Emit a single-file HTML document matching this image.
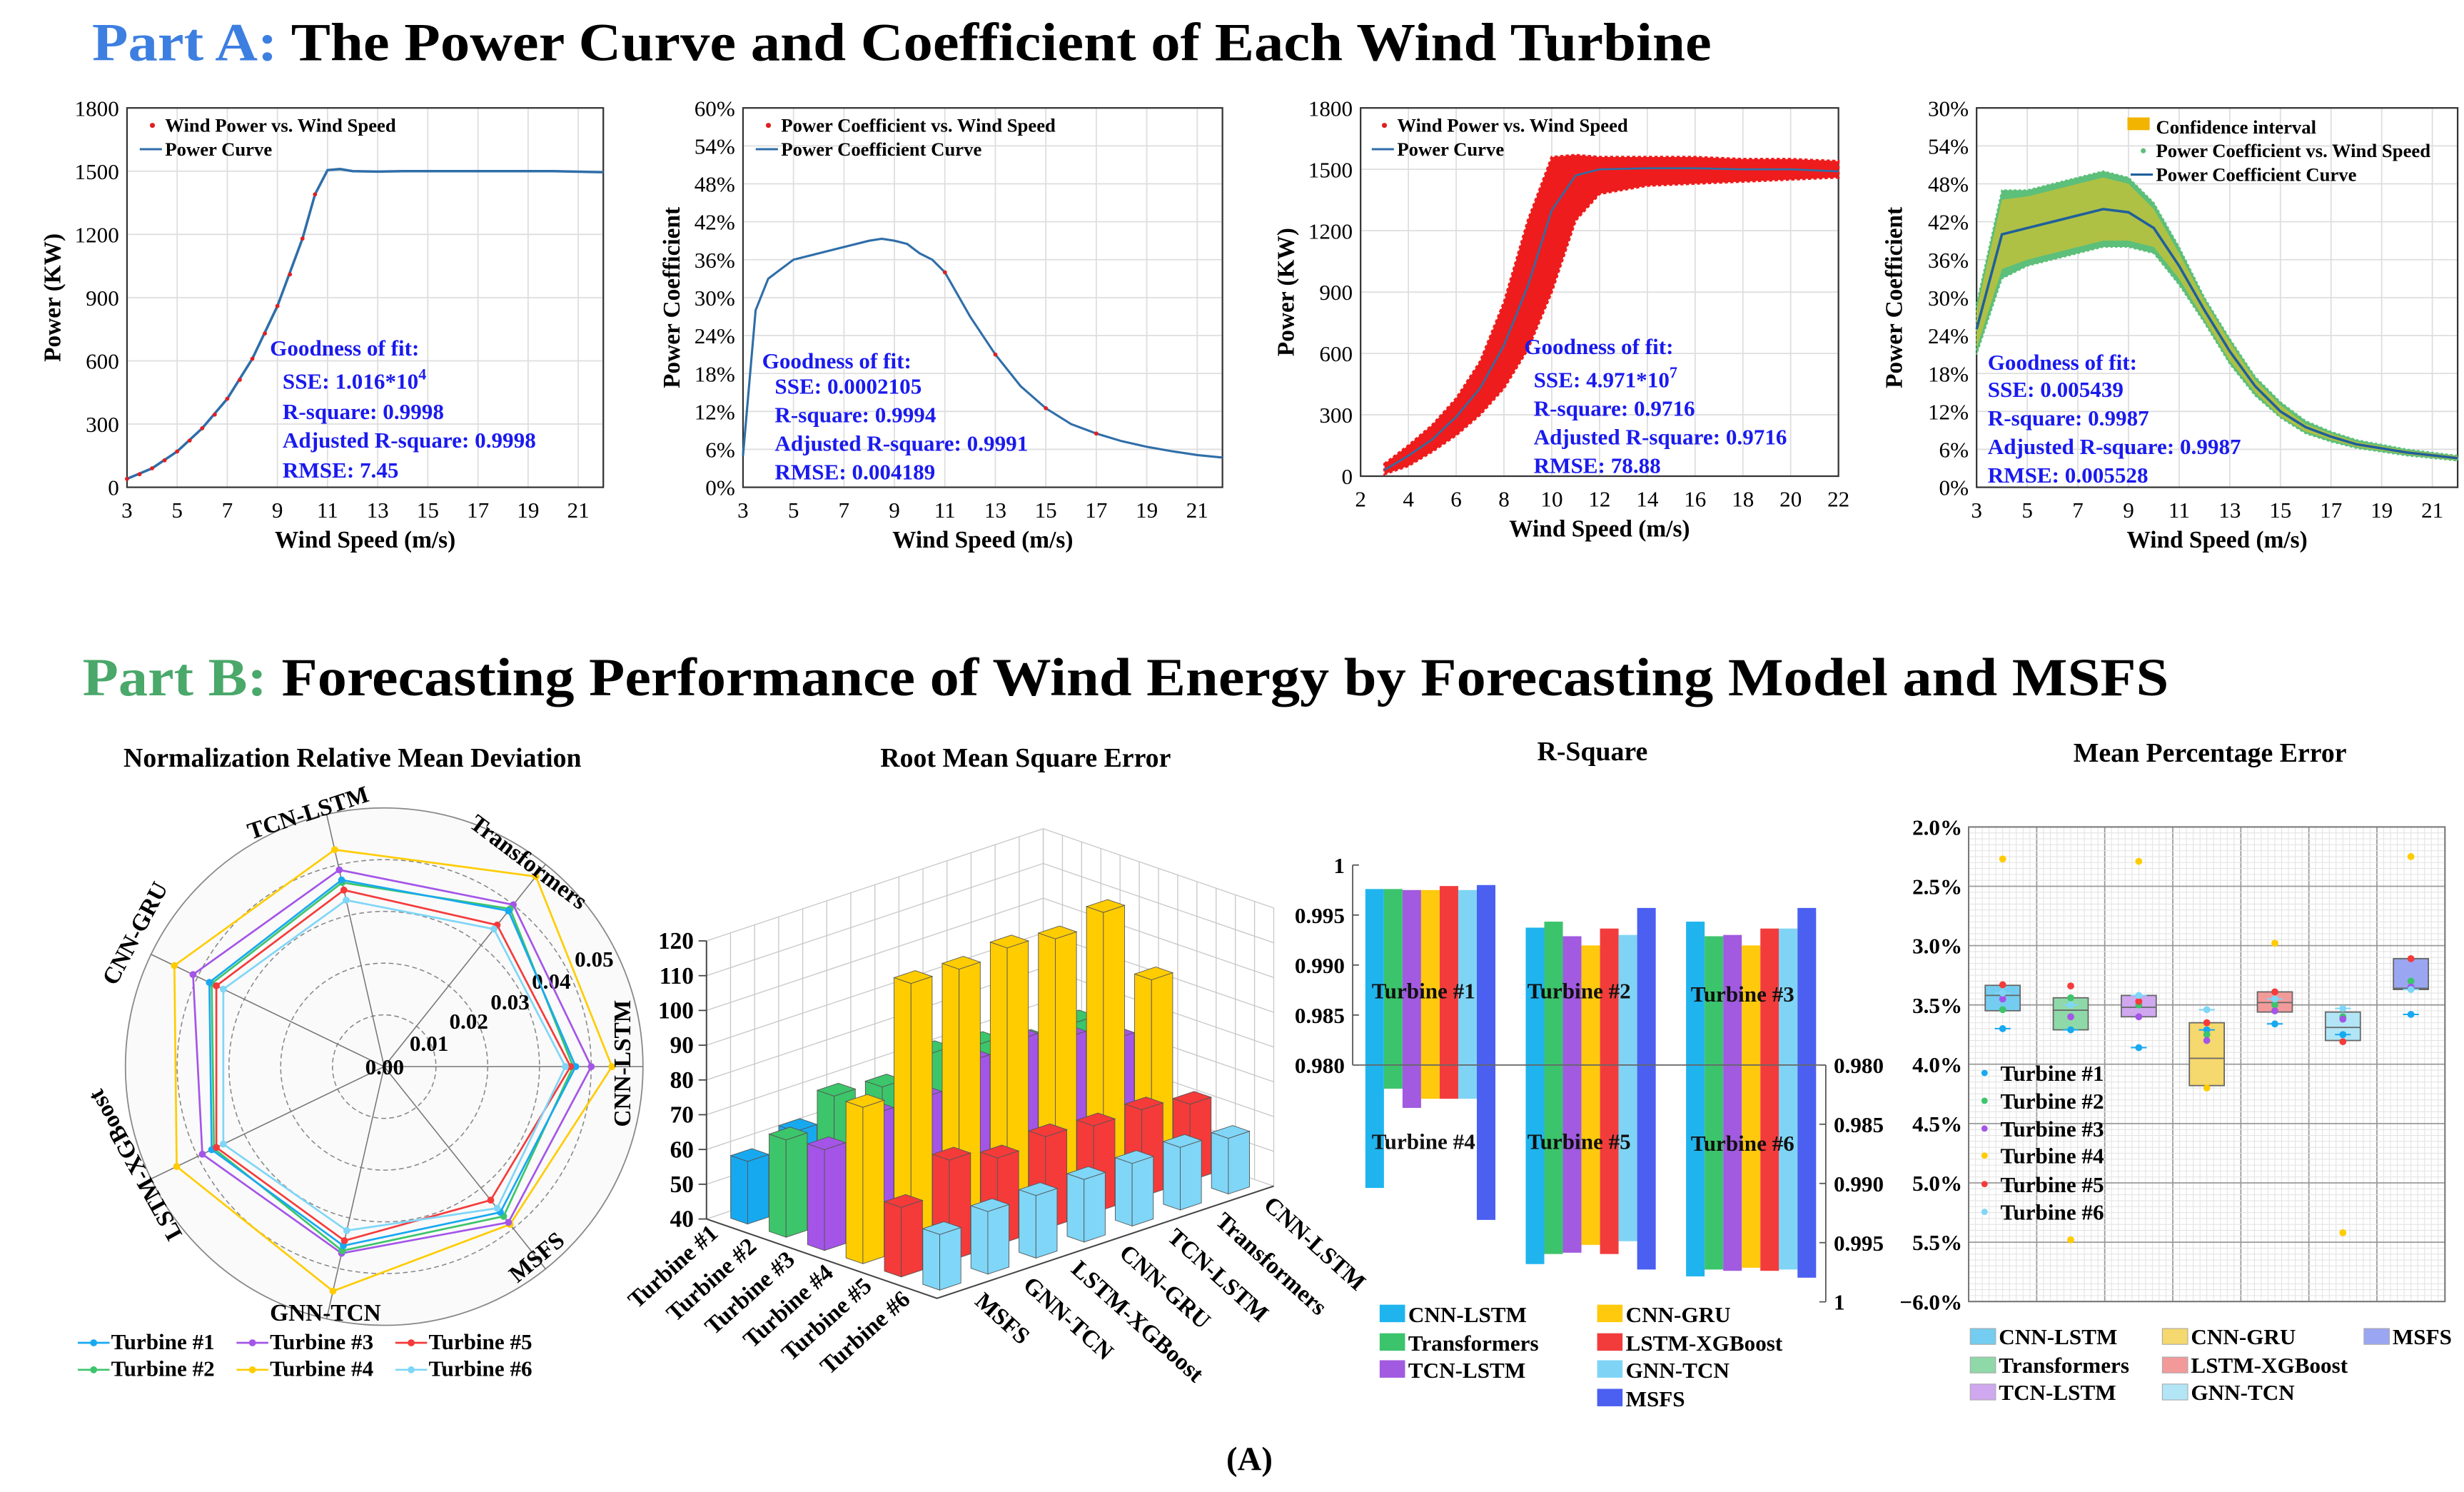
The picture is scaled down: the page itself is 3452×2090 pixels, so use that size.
<!DOCTYPE html>
<html><head><meta charset="utf-8"><title>Wind turbine figure</title>
<style>
html,body{margin:0;padding:0;background:#fff;}
svg{display:block;font-family:"Liberation Serif",serif;}
</style></head>
<body>
<svg id="fig" width="3452" height="2090" viewBox="0 0 1552 940" preserveAspectRatio="none">
<rect x="0" y="0" width="1552" height="940" fill="#fff"/>
<text x="58" y="38" font-size="34" font-weight="bold" textLength="1020" lengthAdjust="spacingAndGlyphs"><tspan fill="#3d7fe0">Part A:</tspan><tspan fill="#000"> The Power Curve and Coefficient of Each Wind Turbine</tspan></text>
<text x="52" y="438" font-size="34" font-weight="bold" textLength="1314" lengthAdjust="spacingAndGlyphs"><tspan fill="#4aa86a">Part B:</tspan><tspan fill="#000"> Forecasting Performance of Wind Energy by Forecasting Model and MSFS</tspan></text>
<text x="222" y="483" font-size="17" font-weight="bold" text-anchor="middle">Normalization Relative Mean Deviation</text>
<text x="646" y="483" font-size="17" font-weight="bold" text-anchor="middle">Root Mean Square Error</text>
<text x="1003" y="479" font-size="17" font-weight="bold" text-anchor="middle">R-Square</text>
<text x="1392" y="480" font-size="17" font-weight="bold" text-anchor="middle">Mean Percentage Error</text>
<text x="787" y="926" font-size="21" font-weight="bold" text-anchor="middle">(A)</text>
</svg>
<script>
// ---------- Part A data ----------
const pcWind = [3,4,5,6,7,8,9,10,10.5,11,11.5,12,13,14,16,18,20,22];
const pcPower = [40,90,170,280,420,610,860,1180,1390,1505,1510,1500,1498,1500,1500,1500,1500,1495];
const ptWind = [3,3.5,4,4.5,5,5.5,6,6.5,7,7.5,8,8.5,9,9.5,10,10.5];
const ptPower = [40,62,90,128,170,222,280,345,420,510,610,730,860,1010,1180,1390];
const cpWind = [3,3.5,4,5,6,7,8,8.5,9,9.5,10,10.5,11,12,13,14,15,16,17,18,19,20,21,22];
const cpVal = [0.05,0.28,0.33,0.36,0.37,0.38,0.39,0.393,0.39,0.385,0.37,0.36,0.34,0.27,0.21,0.16,0.125,0.10,0.085,0.073,0.064,0.057,0.051,0.047];
const cpPtWind = [11,13,15,17];
const cpPtVal = [0.34,0.21,0.125,0.085];
const scWind = [3,4,5,6,7,8,9,10,11,12,14,16,18,20,22];
const scUpper = [60,150,250,380,560,850,1250,1560,1570,1560,1560,1560,1550,1550,1540];
const scLower = [10,50,120,200,300,430,620,900,1250,1380,1420,1430,1440,1450,1460];
const scCurve = [30,100,180,290,430,640,930,1300,1470,1500,1505,1505,1500,1500,1490];
const ciWind = [3,4,5,6,7,8,9,10,11,12,13,14,15,16,17,18,20,22];
const ciCurve = [0.25,0.40,0.41,0.42,0.43,0.44,0.435,0.41,0.35,0.28,0.215,0.16,0.12,0.095,0.08,0.068,0.055,0.046];
const cpUpper = [0.29,0.47,0.47,0.48,0.49,0.50,0.49,0.45,0.38,0.30,0.235,0.175,0.135,0.105,0.088,0.075,0.06,0.05];
const cpLower = [0.21,0.33,0.35,0.36,0.37,0.38,0.38,0.37,0.32,0.26,0.195,0.145,0.11,0.085,0.072,0.062,0.05,0.042];
const ciUpper = [0.28,0.455,0.46,0.47,0.48,0.49,0.48,0.44,0.37,0.295,0.23,0.17,0.13,0.10,0.085,0.072,0.058,0.049];
const ciLower = [0.22,0.345,0.36,0.37,0.38,0.39,0.39,0.38,0.33,0.265,0.2,0.15,0.112,0.088,0.075,0.064,0.052,0.043];
const powerTicks = [0,300,600,900,1200,1500,1800];
const pctTicks = [0,0.06,0.12,0.18,0.24,0.3,0.36,0.42,0.48,0.54,0.6];
const pctLabels = ["0%","6%","12%","18%","24%","30%","36%","42%","48%","54%","60%"];
const pct4Labels = ["0%","6%","12%","18%","24%","30%","36%","42%","48%","54%","30%"];
const windTicksOdd = [3,5,7,9,11,13,15,17,19,21];
const windTicksEven = [2,4,6,8,10,12,14,16,18,20,22];
// ---------- Part B data ----------
const models = ["CNN-LSTM","Transformers","TCN-LSTM","CNN-GRU","LSTM-XGBoost","GNN-TCN","MSFS"];
const turbines = ["Turbine #1","Turbine #2","Turbine #3","Turbine #4","Turbine #5","Turbine #6"];
const radarT1 = [0.037,0.0385,0.037,0.0375,0.037,0.0355,0.036];
const radarT2 = [0.0365,0.039,0.0365,0.037,0.0365,0.0365,0.037];
const radarT3 = [0.040,0.040,0.039,0.041,0.039,0.037,0.0385];
const radarT4 = [0.044,0.047,0.043,0.045,0.0445,0.0445,0.039];
const radarT5 = [0.036,0.035,0.035,0.036,0.036,0.0345,0.033];
const radarT6 = [0.035,0.034,0.033,0.0345,0.0345,0.0325,0.035];
const radarTicks = [0.00,0.01,0.02,0.03,0.04,0.05];
const rmseRows = ["MSFS","GNN-TCN","LSTM-XGBoost","CNN-GRU","TCN-LSTM","Transformers","CNN-LSTM"];
const rmseT1 = [58,62,62,63,63,64,64];
const rmseT2 = [68,76,74,79,77,73,74];
const rmseT3 = [69,74.5,74.5,80.5,82,78,73];
const rmseT4 = [85,116,115.5,117,115,118,94];
const rmseT5 = [60,69,65,66.5,65,65,62];
const rmseT6 = [56,58,58,58,58,58,56];
const rmseTicks = [40,50,60,70,80,90,100,110,120];
const rsqT1 = [0.9976,0.9976,0.9975,0.9975,0.9979,0.9975,0.998];
const rsqT2 = [0.99374,0.99434,0.99288,0.99196,0.99365,0.99301,0.99571];
const rsqT3 = [0.99434,0.99288,0.99301,0.99196,0.99365,0.99365,0.99571];
const rsqT4 = [0.99038,0.982,0.98362,0.98285,0.98285,0.98285,0.99308];
const rsqT5 = [0.99681,0.99596,0.99585,0.99519,0.99596,0.99488,0.99727];
const rsqT6 = [0.99785,0.99727,0.99738,0.99712,0.99738,0.99727,0.99796];
const rsqTicks = [1,0.995,0.990,0.985,0.980];
const rsqTickLabels = ["1","0.995","0.990","0.985","0.980"];
const mpeQ1 = [3.335,3.44,3.42,3.65,3.39,3.56,3.11];
const mpeQ3 = [3.549,3.71,3.60,4.18,3.56,3.80,3.37];
const mpeMed = [3.42,3.545,3.52,3.95,3.48,3.69,3.36];
const mpeT1 = [3.70,3.71,3.86,3.71,3.66,3.75,3.58];
const mpeT2 = [3.54,3.44,3.50,3.75,3.50,3.60,3.30];
const mpeT3 = [3.45,3.60,3.60,3.80,3.55,3.62,3.35];
const mpeT4 = [2.27,5.48,2.29,4.20,2.98,5.42,2.25];
const mpeT5 = [3.33,3.34,3.47,3.65,3.39,3.81,3.11];
const mpeT6 = [3.40,3.50,3.42,3.54,3.45,3.53,3.37];
const mpeTicks = [2,2.5,3,3.5,4,4.5,5,5.5,6];
const mpeTickLabels = ["2.0%","2.5%","3.0%","3.5%","4.0%","4.5%","5.0%","5.5%","\u22126.0%"];

const svg = document.getElementById('fig');
const NS = svg.namespaceURI;
const tColors = ["#17a9f0","#3cc56a","#a455e8","#ffcc00","#f53a3a","#7fd6f7"];
const mColors = ["#1fb4ee","#3cc46c","#a15ae0","#ffc90e","#f23c3c","#7fd4f6","#4b5ff0"];
const boxFill = ["#74cdf0","#8fd9a8","#cfa8ef","#f5d86e","#f29a9a","#b2e6f6","#9aa6f2"];

function mk(tag, attrs, parent){
  const e = document.createElementNS(NS, tag);
  for (const k in attrs) e.setAttribute(k, attrs[k]);
  (parent || svg).appendChild(e);
  return e;
}
function nameIt(e, n){
  
  
  return e;
}
function tx(s, x, y, attrs, parent){
  const e = mk('text', Object.assign({x:x, y:y}, attrs||{}), parent);
  e.textContent = s;
  return e;
}
function pathD(xs, ys, X, Y){
  return xs.map((v,i)=>(i?'L':'M')+X(v).toFixed(2)+','+Y(ys[i]).toFixed(2)).join(' ');
}
function bandD(xs, up, lo, X, Y){
  let d = xs.map((v,i)=>(i?'L':'M')+X(v).toFixed(2)+','+Y(up[i]).toFixed(2)).join(' ');
  for (let i=xs.length-1;i>=0;i--) d += ' L'+X(xs[i]).toFixed(2)+','+Y(lo[i]).toFixed(2);
  return d+' Z';
}

function panelA(o){
  const g = mk('g', {}); nameIt(g, o.id);
  const X = v => o.x0 + (v-o.xmin)/(o.xmax-o.xmin)*(o.x1-o.x0);
  const Y = v => o.y0 - (v-o.ymin)/(o.ymax-o.ymin)*(o.y0-o.y1);
  o.xt.forEach(v=>{ const l=mk('line',{x1:X(v),x2:X(v),y1:o.y1,y2:o.y0,stroke:'#dedede','stroke-width':0.8},g); nameIt(l,'x-gridline'); });
  o.yt.forEach(v=>{ const l=mk('line',{x1:o.x0,x2:o.x1,y1:Y(v),y2:Y(v),stroke:'#dedede','stroke-width':0.8},g); nameIt(l,'y-gridline'); });
  const fr = mk('rect',{x:o.x0,y:o.y1,width:o.x1-o.x0,height:o.y0-o.y1,fill:'none',stroke:'#333','stroke-width':1},g); nameIt(fr,'plot-frame');
  o.xt.forEach(v=>{ const t=tx(String(v),X(v),o.y0+19,{'font-size':14,'text-anchor':'middle'},g); nameIt(t,'x-tick-label'); });
  o.yt.forEach((v,i)=>{ const t=tx(o.yl[i],o.x0-5,Y(v)+5,{'font-size':14,'text-anchor':'end'},g); nameIt(t,'y-tick-label'); });
  const xt = tx('Wind Speed (m/s)',(o.x0+o.x1)/2,o.y0+38,{'font-size':15,'font-weight':'bold','text-anchor':'middle'},g); nameIt(xt,'x-axis-title');
  const yc=(o.y0+o.y1)/2;
  const yt = tx(o.ytitle,o.ytx,yc,{'font-size':15,'font-weight':'bold','text-anchor':'middle',transform:'rotate(-90 '+o.ytx+' '+yc+')'},g); nameIt(yt,'y-axis-title');
  return {g,X,Y};
}
function goodness(g, lines, x0, x1, ys, sup){
  lines.forEach((s,i)=>{
    const t = tx('', i? x1 : x0, ys[i], {'font-size':14,'font-weight':'bold',fill:'#1a1aee'}, g);
    const a = mk('tspan',{},t); a.textContent = s;
    if (i===1 && sup){ const b=mk('tspan',{dy:-6,'font-size':10},t); b.textContent=sup; }
    nameIt(t, i? 'fit-stat' : 'fit-heading');
  });
}
function legendA(g, items, x, y){
  items.forEach((it,i)=>{
    const yy = y + i*15;
    if (it.type==='dot'){ const c=mk('circle',{cx:x-8,cy:yy-4,r:1.6,fill:it.color},g); nameIt(c,'legend-marker'); }
    else if (it.type==='line'){ const l=mk('line',{x1:x-16,x2:x-2,y1:yy-4,y2:yy-4,stroke:it.color,'stroke-width':1.4},g); nameIt(l,'legend-marker'); }
    else { const r=mk('rect',{x:x-18,y:yy-10,width:14,height:8,fill:it.color},g); nameIt(r,'legend-marker'); }
    const t = tx(it.label, x, yy, {'font-size':12,'font-weight':'bold'}, g); nameIt(t,'legend-label');
  });
}
(function(){
  let p = panelA({id:'power-curve-panel',x0:80,x1:380,y0:307,y1:68,xmin:3,xmax:22,ymin:0,ymax:1800,xt:windTicksOdd,yt:powerTicks,yl:powerTicks.map(String),ytitle:'Power (KW)',ytx:38});
  let pa = mk('path',{d:pathD(pcWind,pcPower,p.X,p.Y),fill:'none',stroke:'#2f6ea8','stroke-width':1.6},p.g); nameIt(pa,'power-curve-line');
  ptWind.forEach((w,i)=>{ const c=mk('circle',{cx:p.X(w),cy:p.Y(ptPower[i]),r:1.3,fill:'#e02020'},p.g); nameIt(c,'wind-power-point'); });
  legendA(p.g,[{type:'dot',color:'#e02020',label:'Wind Power vs. Wind Speed'},{type:'line',color:'#2f6ea8',label:'Power Curve'}],104,83);
  goodness(p.g,['Goodness of fit:','SSE: 1.016*10','R-square: 0.9998','Adjusted R-square: 0.9998','RMSE: 7.45'],170,178,[224,245,264,282,301],'4');
  p = panelA({id:'power-coefficient-panel',x0:468,x1:770,y0:307,y1:68,xmin:3,xmax:22,ymin:0,ymax:0.6,xt:windTicksOdd,yt:pctTicks,yl:pctLabels,ytitle:'Power Coefficient',ytx:428});
  pa = mk('path',{d:pathD(cpWind,cpVal,p.X,p.Y),fill:'none',stroke:'#2f6ea8','stroke-width':1.4},p.g); nameIt(pa,'power-coefficient-line');
  cpPtWind.forEach((w,i)=>{ const c=mk('circle',{cx:p.X(w),cy:p.Y(cpPtVal[i]),r:1.3,fill:'#e02020'},p.g); nameIt(c,'coefficient-point'); });
  legendA(p.g,[{type:'dot',color:'#e02020',label:'Power Coefficient  vs. Wind Speed'},{type:'line',color:'#2f6ea8',label:'Power Coefficient Curve'}],492,83);
  goodness(p.g,['Goodness of fit:','SSE: 0.0002105','R-square: 0.9994','Adjusted R-square: 0.9991','RMSE: 0.004189'],480,488,[232,248,266,284,302],'');
  p = panelA({id:'scatter-power-panel',x0:857,x1:1158,y0:300,y1:68,xmin:2,xmax:22,ymin:0,ymax:1800,xt:windTicksEven,yt:powerTicks,yl:powerTicks.map(String),ytitle:'Power (KW)',ytx:815});
  pa = mk('path',{d:bandD(scWind,scUpper,scLower,p.X,p.Y),fill:'#ee1c1c',stroke:'#ee1c1c','stroke-width':1.5,'stroke-dasharray':'2 1.5'},p.g); nameIt(pa,'wind-power-scatter-cloud');
  pa = mk('path',{d:pathD(scWind,scCurve,p.X,p.Y),fill:'none',stroke:'#2f6ea8','stroke-width':1.2},p.g); nameIt(pa,'power-curve-line');
  legendA(p.g,[{type:'dot',color:'#e02020',label:'Wind Power vs. Wind Speed'},{type:'line',color:'#2f6ea8',label:'Power Curve'}],880,83);
  goodness(p.g,['Goodness of fit:','SSE: 4.971*10','R-square: 0.9716','Adjusted R-square: 0.9716','RMSE: 78.88'],960,966,[223,244,262,280,298],'7');
  p = panelA({id:'coefficient-confidence-panel',x0:1245,x1:1548,y0:307,y1:68,xmin:3,xmax:22,ymin:0,ymax:0.6,xt:windTicksOdd,yt:pctTicks,yl:pct4Labels,ytitle:'Power Coefficient',ytx:1198});
  pa = mk('path',{d:bandD(ciWind,cpUpper,cpLower,p.X,p.Y),fill:'#5cbf7a',stroke:'#5cbf7a','stroke-width':1,'stroke-dasharray':'1.5 1.5'},p.g); nameIt(pa,'coefficient-scatter-cloud');
  pa = mk('path',{d:bandD(ciWind,ciUpper,ciLower,p.X,p.Y),fill:'#f2c21a','fill-opacity':0.55,stroke:'none'},p.g); nameIt(pa,'confidence-interval-band');
  pa = mk('path',{d:pathD(ciWind,ciCurve,p.X,p.Y),fill:'none',stroke:'#1f5f9c','stroke-width':1.6},p.g); nameIt(pa,'power-coefficient-line');
  legendA(p.g,[{type:'rect',color:'#f2b400',label:'Confidence interval'},{type:'dot',color:'#5cbf7a',label:'Power Coefficient  vs. Wind Speed'},{type:'line',color:'#1f5f9c',label:'Power Coefficient Curve'}],1358,84);
  goodness(p.g,['Goodness of fit:','SSE: 0.005439','R-square: 0.9987','Adjusted R-square: 0.9987','RMSE: 0.005528'],1252,1252,[233,250,268,286,304],'');
})();

// ---------- Radar ----------
(function(){
  const g = mk('g',{}); nameIt(g,'radar-chart');
  const cx=242, cy=672, R=163, vmax=0.05;
  const r = v => v/vmax*R;
  const ang = k => -k*2*Math.PI/7;
  const bg = mk('circle',{cx:cx,cy:cy,r:R,fill:'#fafafa',stroke:'#888','stroke-width':0.8},g); nameIt(bg,'radar-outer-ring');
  radarTicks.slice(1,5).forEach(v=>{ const c=mk('circle',{cx:cx,cy:cy,r:r(v),fill:'none',stroke:'#888','stroke-width':0.7,'stroke-dasharray':'3 2'},g); nameIt(c,'radar-ring'); });
  models.forEach((m,k)=>{ const l=mk('line',{x1:cx,y1:cy,x2:cx+R*Math.cos(ang(k)),y2:cy+R*Math.sin(ang(k)),stroke:'#777','stroke-width':0.7},g); nameIt(l,'radar-spoke'); });
  const tickPos=[[230,677],[258,662],[283,648],[309,636],[335,623],[362,609]];
  radarTicks.forEach((v,i)=>{ const t=tx(v.toFixed(2),tickPos[i][0],tickPos[i][1],{'font-size':14,'font-weight':'bold'},g); nameIt(t,'radar-tick-label'); });
  const series=[radarT4,radarT3,radarT2,radarT1,radarT5,radarT6];
  const sidx=[3,2,1,0,4,5];
  series.forEach((vals,s)=>{
    const col=tColors[sidx[s]];
    const pts=vals.map((v,k)=>(cx+r(v)*Math.cos(ang(k))).toFixed(2)+','+(cy+r(v)*Math.sin(ang(k))).toFixed(2)).join(' ');
    const pl=mk('polygon',{points:pts,fill:'none',stroke:col,'stroke-width':1.2},g); nameIt(pl,'radar-series-'+turbines[sidx[s]].replace(' #','-').toLowerCase());
    vals.forEach((v,k)=>{ const c=mk('circle',{cx:cx+r(v)*Math.cos(ang(k)),cy:cy+r(v)*Math.sin(ang(k)),r:2.2,fill:col},g); nameIt(c,'radar-point'); });
  });
  const labs=[[392,670,-90],[333,543,37],[194,512,-18],[85,588,-62],[85,734,-119],[205,827,0],[338,792,-40]];
  models.forEach((m,k)=>{ const L=labs[k]; const t=tx(m,L[0],L[1]+5,{'font-size':15,'font-weight':'bold','text-anchor':'middle',transform:'rotate('+L[2]+' '+L[0]+' '+L[1]+')'},g); nameIt(t,'radar-axis-label'); });
  const lp=[[48,850],[48,867],[148,850],[148,867],[248,850],[248,867]];
  turbines.forEach((tname,i)=>{ const P=lp[i];
    const l=mk('line',{x1:P[0]+1,x2:P[0]+21,y1:P[1]-4,y2:P[1]-4,stroke:tColors[i],'stroke-width':1.2},g); nameIt(l,'legend-marker');
    const c=mk('circle',{cx:P[0]+11,cy:P[1]-4,r:2.2,fill:tColors[i]},g); nameIt(c,'legend-marker');
    const t=tx(tname,P[0]+22,P[1],{'font-size':14,'font-weight':'bold'},g); nameIt(t,'legend-label'); });
})();

// ---------- 3D RMSE ----------
(function(){
  const g = mk('g',{}); nameIt(g,'rmse-3d-chart');
  const A=[445,768], ti=[24.2,8.33], tj=[30.3,-10.1], zs=2.19;
  const P=(i,j,z)=>[A[0]+(i+0.5)*ti[0]+(j+0.5)*tj[0], A[1]+(i+0.5)*ti[1]+(j+0.5)*tj[1]-(z-40)*zs];
  const pts=a=>a.map(p=>p[0].toFixed(2)+','+p[1].toFixed(2)).join(' ');
  const zmax=rmseTicks[rmseTicks.length-1];
  for(let j=-0.5;j<=6.51;j+=0.5){ const a=P(-0.5,j,40),b=P(-0.5,j,zmax); const l=mk('line',{x1:a[0],y1:a[1],x2:b[0],y2:b[1],stroke:'#c8c8c8','stroke-width':0.6},g); nameIt(l,'wall-gridline'); }
  for(let i=-0.5;i<=5.51;i+=0.5){ const a=P(i,6.5,40),b=P(i,6.5,zmax); const l=mk('line',{x1:a[0],y1:a[1],x2:b[0],y2:b[1],stroke:'#c8c8c8','stroke-width':0.6},g); nameIt(l,'wall-gridline'); }
  rmseTicks.forEach(z=>{ const a=P(-0.5,-0.5,z),b=P(-0.5,6.5,z),c=P(5.5,6.5,z);
    const l=mk('polyline',{points:pts([a,b,c]),fill:'none',stroke:'#c8c8c8','stroke-width':0.6},g); nameIt(l,'wall-gridline');
    const t=tx(String(z),a[0]-8,a[1]+5,{'font-size':15,'font-weight':'bold','text-anchor':'end'},g); nameIt(t,'z-tick-label');
    const tk=mk('line',{x1:a[0]-5,y1:a[1],x2:a[0],y2:a[1],stroke:'#444','stroke-width':0.8},g); nameIt(tk,'z-tick'); });
  const ax=mk('line',{x1:P(-0.5,-0.5,40)[0],y1:P(-0.5,-0.5,40)[1],x2:P(-0.5,-0.5,zmax)[0],y2:P(-0.5,-0.5,zmax)[1],stroke:'#444','stroke-width':0.9},g); nameIt(ax,'z-axis');
  const fe=mk('polyline',{points:pts([P(-0.5,-0.5,40),P(5.5,-0.5,40),P(5.5,6.5,40)]),fill:'none',stroke:'#444','stroke-width':0.9},g); nameIt(fe,'floor-edge');
  const rows=[rmseT1,rmseT2,rmseT3,rmseT4,rmseT5,rmseT6];
  const bars=[];
  rows.forEach((vals,i)=>vals.forEach((v,j)=>bars.push({i,j,v})));
  bars.sort((a,b)=>(a.i-a.j)-(b.i-b.j));
  const h=0.22;
  bars.forEach(b=>{
    const col=tColors[b.i];
    const i0=b.i-h,i1=b.i+h,j0=b.j-h,j1=b.j+h;
    const f1=mk('polygon',{points:pts([P(i0,j0,40),P(i1,j0,40),P(i1,j0,b.v),P(i0,j0,b.v)]),fill:col,stroke:'#555','stroke-width':0.4},g); nameIt(f1,'bar-face');
    const f2=mk('polygon',{points:pts([P(i1,j0,40),P(i1,j1,40),P(i1,j1,b.v),P(i1,j0,b.v)]),fill:col,stroke:'#555','stroke-width':0.4},g); nameIt(f2,'bar-face');
    const f3=mk('polygon',{points:pts([P(i0,j0,b.v),P(i1,j0,b.v),P(i1,j1,b.v),P(i0,j1,b.v)]),fill:col,stroke:'#555','stroke-width':0.4},g); nameIt(f3,'bar-top-'+turbines[b.i].replace(' #','-').toLowerCase()+'-'+rmseRows[b.j].toLowerCase());
  });
  turbines.forEach((tn,i)=>{ const p=P(i,-0.5,40); const t=tx(tn,p[0]-4,p[1]+6,{'font-size':15,'font-weight':'bold','text-anchor':'end',transform:'rotate(-42 '+(p[0]-4)+' '+(p[1]+6)+')'},g); nameIt(t,'turbine-axis-label'); });
  rmseRows.forEach((m,j)=>{ const p=P(5.5,j,40); const t=tx(m,p[0]+8,p[1]+8,{'font-size':15,'font-weight':'bold',transform:'rotate(42 '+(p[0]+8)+' '+(p[1]+8)+')'},g); nameIt(t,'model-axis-label'); });
})();

// ---------- R-square ----------
(function(){
  const g = mk('g',{}); nameIt(g,'rsquare-chart');
  const Yu=v=>545+(1-v)/0.005*31.5;
  const Yl=v=>671+(v-0.98)/0.005*37.3;
  const gx=[860,961,1062], bw=11.7;
  const axL=852, axR=1150;
  const ax1=mk('line',{x1:axL,y1:Yu(1),x2:axL,y2:Yu(0.98),stroke:'#555','stroke-width':0.8},g); nameIt(ax1,'upper-y-axis');
  rsqTicks.forEach((v,k)=>{ const t=tx(rsqTickLabels[k],axL-5,Yu(v)+5,{'font-size':14,'font-weight':'bold','text-anchor':'end'},g); nameIt(t,'upper-y-tick-label');
    const tk=mk('line',{x1:axL,x2:axL+4,y1:Yu(v),y2:Yu(v),stroke:'#555','stroke-width':0.8},g); nameIt(tk,'y-tick'); });
  const ax2=mk('line',{x1:axR,y1:Yl(0.98),x2:axR,y2:Yl(1),stroke:'#555','stroke-width':0.8},g); nameIt(ax2,'lower-y-axis');
  rsqTicks.forEach((v,k)=>{ const t=tx(rsqTickLabels[k],axR+5,Yl(v)+5,{'font-size':14,'font-weight':'bold'},g); nameIt(t,'lower-y-tick-label');
    const tk=mk('line',{x1:axR-4,x2:axR,y1:Yl(v),y2:Yl(v),stroke:'#555','stroke-width':0.8},g); nameIt(tk,'y-tick'); });
  const tops=[rsqT1,rsqT2,rsqT3], bots=[rsqT4,rsqT5,rsqT6];
  tops.forEach((tv,gi)=>tv.forEach((v,m)=>{
    const y0=Yu(v), y1=Yl(bots[gi][m]);
    const r=mk('rect',{x:gx[gi]+m*bw,y:y0,width:bw,height:y1-y0,fill:mColors[m]},g); nameIt(r,'bar-'+turbines[gi].replace(' #','')+'-'+models[m].toLowerCase());
  }));
  const hl=mk('line',{x1:axL,x2:axR,y1:Yu(0.98),y2:Yu(0.98),stroke:'#666','stroke-width':0.8},g); nameIt(hl,'baseline-0980');
  const lab=[[864,629],[962,629],[1065,631],[864,724],[962,724],[1065,725]];
  turbines.forEach((tn,i)=>{ const t=tx(tn,lab[i][0],lab[i][1],{'font-size':14,'font-weight':'bold',fill:'#111'},g); nameIt(t,'group-label'); });
  const lx=[869,869,869,1006,1006,1006,1006], ly=[828,846,863,828,846,863,881];
  models.forEach((m,k)=>{ const r=mk('rect',{x:lx[k],y:ly[k]-6,width:16,height:11,fill:mColors[k]},g); nameIt(r,'legend-swatch');
    const t=tx(m,lx[k]+18,ly[k]+5,{'font-size':14,'font-weight':'bold'},g); nameIt(t,'legend-label'); });
})();

// ---------- MPE box plot ----------
(function(){
  const g = mk('g',{}); nameIt(g,'mpe-boxplot');
  const x0=1240,x1=1540,y0=521,y1=820;
  const Y=v=>y0+(v-2)/4*(y1-y0);
  const cw=(x1-x0)/7;
  const X=k=>x0+(k+0.5)*cw;
  for(let k=0;k<=70;k++){ const x=x0+k*cw/10; const l=mk('line',{x1:x,x2:x,y1:y0,y2:y1,stroke:k%10?'#e4e4e4':'#9a9a9a','stroke-width':k%10?0.5:0.8},g); nameIt(l,'x-gridline'); }
  for(let k=0;k<=80;k++){ const y=y0+k*(y1-y0)/80; const l=mk('line',{x1:x0,x2:x1,y1:y,y2:y,stroke:k%10?'#e4e4e4':'#9a9a9a','stroke-width':k%10?0.5:0.8},g); nameIt(l,'y-gridline'); }
  const fr=mk('rect',{x:x0,y:y0,width:x1-x0,height:y1-y0,fill:'none',stroke:'#777','stroke-width':0.9},g); nameIt(fr,'plot-frame');
  mpeTicks.forEach((v,k)=>{ const t=tx(mpeTickLabels[k],x0-4,Y(v)+5,{'font-size':14,'font-weight':'bold','text-anchor':'end'},g); nameIt(t,'y-tick-label'); });
  models.forEach((m,k)=>{
    const b=mk('rect',{x:X(k)-11,y:Y(mpeQ1[k]),width:22,height:Y(mpeQ3[k])-Y(mpeQ1[k]),fill:boxFill[k],stroke:'#666','stroke-width':0.8},g); nameIt(b,'box-'+m.toLowerCase());
    const md=mk('line',{x1:X(k)-11,x2:X(k)+11,y1:Y(mpeMed[k]),y2:Y(mpeMed[k]),stroke:'#666','stroke-width':0.8},g); nameIt(md,'median-line');
  });
  const pts=[mpeT1,mpeT2,mpeT3,mpeT4,mpeT5,mpeT6];
  pts.forEach((vals,t)=>vals.forEach((v,k)=>{
    if(t===0||t===5){ const l=mk('line',{x1:X(k)-5,x2:X(k)+5,y1:Y(v),y2:Y(v),stroke:tColors[t],'stroke-width':0.9},g); nameIt(l,'point-whisker'); }
    const c=mk('circle',{cx:X(k),cy:Y(v),r:2.2,fill:tColors[t]},g); nameIt(c,'mpe-point');
  }));
  const ly=[680,697.5,715,732,750,767.5];
  turbines.forEach((tn,i)=>{ const c=mk('circle',{cx:1250,cy:ly[i]-4,r:2,fill:tColors[i]},g); nameIt(c,'legend-marker');
    const t=tx(tn,1260,ly[i]+1,{'font-size':14,'font-weight':'bold'},g); nameIt(t,'legend-label'); });
  const lx=[1241,1241,1241,1362,1362,1362,1489], lyy=[842,860,877,842,860,877,842];
  models.forEach((m,k)=>{ const r=mk('rect',{x:lx[k],y:lyy[k]-5,width:16,height:10,fill:boxFill[k],stroke:'#aaa','stroke-width':0.5},g); nameIt(r,'legend-swatch');
    const t=tx(m,lx[k]+18,lyy[k]+5,{'font-size':14,'font-weight':'bold'},g); nameIt(t,'legend-label'); });
})();
</script>
</body></html>
